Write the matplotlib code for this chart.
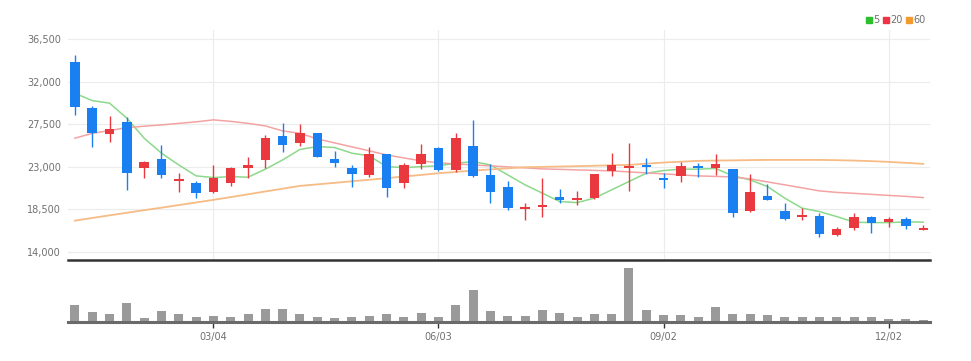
import matplotlib
matplotlib.use("Agg")
import matplotlib.pyplot as plt
from matplotlib.lines import Line2D
import numpy as np
import pandas as pd

# weekly candles, 50 weeks
dates = pd.date_range("2024-01-08", periods=50, freq="W-MON")
tick_labels = ["03/04", "06/03", "09/02", "12/02"]

opens = [34150, 29280, 26500, 27730, 22860, 23820, 21550, 21340, 20390, 21280,
         22900, 23740, 26320, 25510, 26570, 23820, 22860, 22150, 24350, 21280,
         23290, 24980, 22680, 25230, 22150, 20850, 18520, 18730, 19860, 19510,
         19690, 22610, 22860, 23210, 21810, 22050, 23140, 22860, 22760, 18370,
         19960, 18370, 17680, 17810, 15800, 16570, 17740, 17210, 17500, 16330]
highs = [34850, 29460, 28430, 28330, 23670, 25330, 22400, 21520, 23210, 23000,
         24090, 26390, 27690, 27560, 26600, 24730, 23210, 25150, 24400, 23390,
         25440, 25080, 26630, 27980, 23290, 21520, 19160, 21810, 20670, 20460,
         22300, 24450, 25580, 23990, 22400, 23560, 23460, 24380, 22800, 22230,
         21170, 19160, 18690, 18160, 16620, 18160, 17800, 17740, 17740, 16860]
lows = [28500, 25150, 25620, 20570, 21810, 21810, 20390, 19690, 20280, 20990,
        21870, 22860, 24620, 25260, 24020, 23030, 20920, 21910, 19860, 20750,
        22760, 22610, 22440, 21970, 19160, 18450, 17390, 17680, 19220, 18980,
        19650, 22050, 20460, 22260, 20750, 21450, 21970, 22150, 17680, 18240,
        19450, 17390, 17390, 15560, 15700, 16330, 16040, 16680, 16400, 16300]
closes = [29350, 26630, 27060, 22400, 23560, 22150, 21700, 20220, 21810, 22930,
          23180, 26040, 25330, 26570, 24090, 23460, 22260, 24350, 20750, 23210,
          24350, 22680, 26040, 22080, 20390, 18630, 18730, 18980, 19510, 19750,
          22260, 23210, 23110, 22970, 21630, 23110, 22860, 23290, 18160, 20320,
          19510, 17500, 17920, 15870, 16470, 17740, 17100, 17500, 16750, 16540]

ma5 = [30800, 30020, 29750, 28160, 26040, 24450, 23210, 22050, 21870, 21970,
       21910, 22760, 23740, 24850, 25150, 25050, 24450, 24170, 23030, 22930,
       23030, 23110, 23390, 23560, 23210, 22150, 21100, 20220, 19330, 19220,
       19690, 20570, 21450, 22330, 22610, 22760, 22760, 22840, 22050, 21620,
       20920, 19690, 18630, 18270, 17740, 17150, 17100, 17100, 17180, 17150]
ma20 = [26040, 26550, 26850, 27160, 27310, 27450, 27610, 27770, 27980, 27820,
        27610, 27340, 26810, 26550, 25970, 25540, 25120, 24700, 24270, 23950,
        23640, 23430, 23320, 23210, 23110, 23000, 22900, 22790, 22740, 22680,
        22630, 22580, 22470, 22370, 22260, 22150, 22050, 21990, 21940, 21730,
        21410, 21100, 20780, 20460, 20300, 20200, 20090, 19980, 19880, 19750]
ma60 = [17310, 17590, 17870, 18140, 18420, 18680, 18960, 19230, 19510, 19800,
        20100, 20400, 20690, 20990, 21150, 21310, 21480, 21640, 21800, 21990,
        22150, 22330, 22470, 22610, 22730, 22850, 22970, 23000, 23040, 23080,
        23120, 23170, 23210, 23340, 23460, 23550, 23640, 23670, 23690, 23720,
        23740, 23740, 23740, 23740, 23710, 23670, 23610, 23530, 23430, 23320]

# volume (thousand shares)
volumes = [1730, 1000, 830, 1900, 430, 1100, 830, 530, 630, 530,
           770, 1270, 1270, 770, 530, 430, 500, 600, 770, 500,
           930, 530, 1670, 3230, 1070, 600, 600, 1170, 930, 470,
           770, 830, 5400, 1170, 670, 670, 470, 1500, 770, 830,
           670, 470, 530, 470, 530, 530, 470, 330, 300, 170]

UP = "#e9393f"
DOWN = "#1a7ff0"
LABEL = "#707070"
FONT = ["Liberation Sans Narrow", "DejaVu Sans"]

x = np.arange(len(dates))
date_str = [d.strftime("%m/%d") for d in dates]
tick_pos = [date_str.index(t) for t in tick_labels]

fig = plt.figure(figsize=(9.71, 3.61), dpi=100)
ax = fig.add_axes([0.070, 0.280, 0.888, 0.637])
axv = fig.add_axes([0.070, 0.108, 0.888, 0.166], sharex=ax)

# candles
for i in x:
    o, h, l, c = opens[i], highs[i], lows[i], closes[i]
    col = UP if c >= o else DOWN
    ax.vlines(i, l, h, color=col, linewidth=1, zorder=3)
    ax.bar(i, max(abs(c - o), 60), bottom=min(o, c), width=0.55,
           color=col, zorder=4)

ax.plot(x, ma5, color="#8cd98c", linewidth=1.1, zorder=2)
ax.plot(x, ma20, color="#f4a3a3", linewidth=1.1, zorder=2)
ax.plot(x, ma60, color="#f7bb85", linewidth=1.3, zorder=2)

ax.set_xlim(-0.4, 49.4)
ax.set_ylim(13150, 37500)
yt = [14000, 18500, 23000, 27500, 32000, 36500]
ax.set_yticks(yt)
ax.set_yticklabels([f"{v:,}" for v in yt], fontfamily=FONT, fontsize=7, color=LABEL)
ax.set_xticks(tick_pos)
ax.tick_params(axis="x", length=0, labelbottom=False)
ax.tick_params(axis="y", length=0, pad=5)
ax.grid(True, color="#ececec", linewidth=0.8)
ax.set_axisbelow(True)
for s in ["top", "right", "left"]:
    ax.spines[s].set_visible(False)
ax.spines["bottom"].set_color("#333333")
ax.spines["bottom"].set_linewidth(1.8)

# legend
handles = [Line2D([], [], marker="s", linestyle="", color=c, markersize=5)
           for c in ["#2bbf2b", "#ee3344", "#f39a2e"]]
leg = ax.legend(handles, ["5", "20", "60"], ncol=3, loc="lower right",
                bbox_to_anchor=(1.0, 1.0), frameon=False, handlelength=0.6,
                handletextpad=0.1, columnspacing=0.4, borderpad=0,
                prop={"family": FONT, "size": 7})
for t in leg.get_texts():
    t.set_color(LABEL)

# volume
axv.bar(x, volumes, width=0.52, color="#9a9a9a", zorder=1)
axv.set_ylim(0, 6000)
axv.set_yticks([])
axv.set_xticks(tick_pos)
axv.set_xticklabels(tick_labels, fontfamily=FONT, fontsize=7, color=LABEL)
axv.tick_params(axis="x", length=4, width=1, color="#333333", pad=3)
for s in ["top", "right", "left"]:
    axv.spines[s].set_visible(False)
axv.spines["bottom"].set_color("#6a6a6a")
axv.spines["bottom"].set_linewidth(2.2)
axv.spines["bottom"].set_zorder(2)

fig.savefig("out.png", dpi=100)
